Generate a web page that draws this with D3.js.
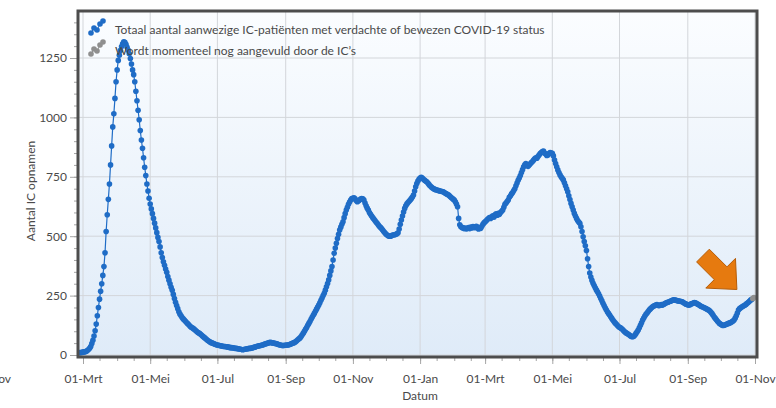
<!DOCTYPE html>
<html>
<head>
<meta charset="utf-8">
<script src="https://cdn.jsdelivr.net/npm/d3@7"></script>
<style>
  body { margin: 0; background: #fff; }
  svg { display: block; font-family: Lato, "Open Sans", sans-serif; }
</style>
</head>
<body>
<div id="chart"></div>
<script>
// first day of the series, one value per day after that
var startDate = "2020-02-27";
var provisionalDays = 2;

// Totaal aantal aanwezige IC-patiënten, daily values 2020
var ic2020 = [
  10, 10, 11, // feb
  12, 13, 14, 16, 19, 23, 28, 36, 48, 62, 80, 102, 130, 165, 200, 235, 268, 300, 335, 372, 430, 520, 590, 655, 720, 800, 880, 960, 1015, 1080, 1150,
  1200, 1240, 1262, 1282, 1298, 1310, 1318, 1316, 1308, 1295, 1283, 1268, 1248, 1225, 1200, 1180, 1150, 1110, 1070, 1030, 990, 945, 905, 870, 830, 790, 755, 720, 690, 660,
  635, 615, 595, 575, 555, 535, 515, 495, 478, 455, 430, 410, 392, 378, 362, 348, 330, 315, 300, 285, 272, 255, 238, 222, 208, 195, 182, 172, 165, 158, 152,
  147, 142, 137, 132, 127, 122, 118, 115, 112, 108, 104, 100, 96, 93, 90, 86, 82, 78, 74, 70, 66, 62, 59, 56, 53, 51, 49, 47, 45, 43,
  42, 41, 40, 39, 38, 37, 36, 36, 35, 34, 33, 32, 31, 31, 30, 29, 28, 28, 27, 26, 25, 24, 23, 22, 23, 24, 25, 26, 27, 28, 28,
  29, 30, 32, 33, 35, 37, 38, 39, 40, 41, 42, 44, 46, 47, 49, 50, 52, 53, 52, 51, 50, 49, 48, 47, 45, 43, 42, 41, 40, 40, 41,
  41, 42, 42, 43, 45, 47, 49, 51, 53, 56, 60, 64, 68, 72, 78, 85, 92, 100, 108, 116, 125, 133, 141, 150, 159, 167, 175, 184, 193, 202,
  210, 220, 230, 240, 250, 260, 273, 287, 301, 316, 335, 354, 372, 400, 428, 450, 470, 490, 508, 526, 538, 550, 561, 578, 595, 610, 622, 634, 644, 652, 658,
  660, 662, 657, 650, 645, 648, 652, 656, 658, 657, 652, 640, 628, 618, 610, 600, 592, 585, 578, 572, 566, 560, 554, 548, 542, 537, 532, 526, 520, 514,
  509, 505, 502, 500, 500, 502, 505, 505, 506, 508, 510, 514, 530, 550, 568, 585, 602, 617, 628, 636, 642, 647, 652, 658, 665, 673, 690, 708, 722, 732, 740
];

// daily values 2021
var ic2021 = [
  745, 748, 745, 740, 736, 732, 729, 724, 718, 712, 708, 704, 701, 698, 696, 694, 693, 692, 690, 689, 688, 687, 684, 681, 678, 675, 673, 668, 664, 660, 656,
  652, 645, 635, 624, 575, 548, 540, 537, 535, 532, 534, 531, 533, 536, 532, 538, 535, 541, 540, 536, 542, 538, 530, 534, 533, 542, 550, 556,
  561, 565, 570, 574, 578, 575, 582, 586, 580, 590, 594, 588, 596, 592, 600, 605, 610, 622, 634, 640, 646, 652, 664, 670, 678, 684, 692, 700, 712, 724, 735,
  745, 755, 768, 780, 792, 800, 806, 798, 794, 800, 805, 810, 814, 820, 826, 830, 828, 835, 842, 848, 852, 856, 858, 850, 846, 840, 842, 848, 852, 850,
  849, 838, 821, 806, 792, 779, 768, 758, 750, 744, 737, 725, 712, 700, 687, 670, 654, 638, 624, 610, 596, 585, 575, 566, 560, 554, 540, 520, 498, 478, 460,
  440, 405, 372, 345, 328, 314, 302, 292, 283, 274, 266, 258, 248, 238, 228, 218, 208, 199, 190, 182, 175, 168, 161, 154, 147, 141, 135, 130, 125, 120,
  117, 114, 110, 106, 101, 97, 93, 90, 87, 84, 80, 78, 77, 79, 84, 91, 98, 105, 115, 125, 136, 147, 156, 164, 171, 177, 183, 189, 194, 199, 203,
  206, 208, 210, 212, 209, 207, 210, 212, 210, 213, 216, 219, 221, 222, 224, 226, 228, 230, 232, 231, 231, 229, 228, 227, 226, 225, 224, 221, 218, 215, 213,
  211, 210, 212, 215, 217, 219, 221, 220, 217, 214, 211, 208, 205, 203, 201, 199, 197, 194, 191, 189, 185, 180, 174, 167, 160, 154, 148, 142, 137, 132,
  129, 126, 124, 125, 127, 129, 131, 133, 135, 137, 140, 143, 147, 155, 165, 177, 189, 195, 199, 202, 205, 207, 210, 214, 218, 222, 226, 231, 234, 238, 242
];

var xTickDates = ["2020-03-01", "2020-05-01", "2020-07-01", "2020-09-01", "2020-11-01", "2021-01-01",
                  "2021-03-01", "2021-05-01", "2021-07-01", "2021-09-01", "2021-11-01"];
var xTickLabels = ["01-Mrt", "01-Mei", "01-Jul", "01-Sep", "01-Nov", "01-Jan",
                   "01-Mrt", "01-Mei", "01-Jul", "01-Sep", "01-Nov"];
var yTicks = [0, 250, 500, 750, 1000, 1250];
var legendLabels = ["Totaal aantal aanwezige IC-patiënten met verdachte of bewezen COVID-19 status",
                    "Wordt momenteel nog aangevuld door de IC\u2019s"];

var w = 776, h = 408;
// plot frame ("top" is taken by window.top, so use other names)
var pLeft = 78, pRight = 757, pTop = 11, pBottom = 357;
var blue = "#1f6cc6", grey = "#8f8f8f";

var parse = d3.timeParse("%Y-%m-%d");
var start = parse(startDate);
var values = ic2020.concat(ic2021);
var data = values.map((v, i) => ({ date: d3.timeDay.offset(start, i), value: v }));
var confirmed = data.slice(0, data.length - provisionalDays);
var provisional = data.slice(data.length - provisionalDays - 1);
var tickDates = xTickDates.map(parse);

var x = d3.scaleTime()
  .domain([tickDates[0], tickDates[tickDates.length - 1]])
  .range([83, 755]);
var y = d3.scaleLinear().domain([0, 1250]).range([355, 58]);

var svg = d3.select("#chart").append("svg").attr("width", w).attr("height", h);

var defs = svg.append("defs");
var grad = defs.append("linearGradient").attr("id", "bg").attr("x1", 0).attr("y1", 0).attr("x2", 0).attr("y2", 1);
grad.append("stop").attr("offset", "0%").attr("stop-color", "#fbfdff");
grad.append("stop").attr("offset", "100%").attr("stop-color", "#dfebf8");
defs.append("clipPath").attr("id", "clip")
  .append("rect").attr("x", pLeft).attr("y", pTop).attr("width", pRight - pLeft).attr("height", pBottom - pTop);

svg.append("rect")
  .attr("x", pLeft).attr("y", pTop).attr("width", pRight - pLeft).attr("height", pBottom - pTop)
  .attr("fill", "url(#bg)");

// grid
svg.append("g").selectAll("line").data(tickDates).enter().append("line")
  .attr("x1", d => x(d)).attr("x2", d => x(d)).attr("y1", pTop).attr("y2", pBottom)
  .attr("stroke", "#d3d6da").attr("stroke-width", 1);
svg.append("g").selectAll("line").data(yTicks).enter().append("line")
  .attr("x1", pLeft).attr("x2", pRight).attr("y1", d => y(d)).attr("y2", d => y(d))
  .attr("stroke", "#d3d6da").attr("stroke-width", 1);

// axes
var minorX = d3.timeDay.range(parse("2020-02-16"), parse("2021-11-03"))
  .filter(d => d.getDate() == 1 || d.getDate() == 16)
  .filter(d => x(d) >= pLeft && x(d) <= pRight);
var xMinor = svg.append("g").attr("transform", `translate(0,${pBottom})`)
  .call(d3.axisBottom(x).tickValues(minorX).tickSize(4).tickFormat(""));
var xAxis = svg.append("g").attr("transform", `translate(0,${pBottom})`)
  .call(d3.axisBottom(x).tickValues(tickDates).tickSize(7).tickPadding(10)
    .tickFormat((d, i) => xTickLabels[i]));
var yMinor = svg.append("g").attr("transform", `translate(${pLeft},0)`)
  .call(d3.axisLeft(y).tickValues(d3.range(0, 1450, 50)).tickSize(4).tickFormat(""));
var yAxis = svg.append("g").attr("transform", `translate(${pLeft},0)`)
  .call(d3.axisLeft(y).tickValues(yTicks).tickSize(8).tickPadding(3).tickFormat(d3.format("d")));
[xMinor, xAxis, yMinor, yAxis].forEach(g => {
  g.select(".domain").remove();
  g.selectAll("line").attr("stroke", "#a5a5a5");
  g.selectAll("text").attr("fill", "#4a4a4a").style("font-size", "12px").style("font-family", "Lato, sans-serif");
});

// label cut off at the left edge of the picture
svg.append("text").attr("x", 11).attr("y", 383).attr("text-anchor", "end")
  .attr("fill", "#4a4a4a").style("font-size", "12px").text("01-Nov");

svg.append("text").attr("x", 420).attr("y", 400).attr("text-anchor", "middle")
  .attr("fill", "#4a4a4a").style("font-size", "12px").text("Datum");
svg.append("text").attr("transform", "translate(35,191) rotate(-90)").attr("text-anchor", "middle")
  .attr("fill", "#4a4a4a").style("font-size", "12px").text("Aantal IC opnamen");

// series
var plot = svg.append("g").attr("clip-path", "url(#clip)");
var line = d3.line().x(d => x(d.date)).y(d => y(d.value));
plot.append("path").datum(confirmed).attr("d", line)
  .attr("fill", "none").attr("stroke", blue).attr("stroke-width", 1.2);
plot.append("path").datum(provisional).attr("d", line)
  .attr("fill", "none").attr("stroke", grey).attr("stroke-width", 1.2);
plot.append("g").selectAll("circle").data(confirmed).enter().append("circle")
  .attr("cx", d => x(d.date)).attr("cy", d => y(d.value)).attr("r", 2.8).attr("fill", blue);
plot.append("g").selectAll("circle").data(provisional.slice(1)).enter().append("circle")
  .attr("cx", d => x(d.date)).attr("cy", d => y(d.value)).attr("r", 2.8).attr("fill", grey);

// legend
var iconDots = [[3, 13], [6, 8], [9, 10], [12, 4], [15, 1]];
var legend = svg.append("g");
legendLabels.forEach((label, i) => {
  var gy = 20 + i * 21;
  var col = i == 0 ? blue : grey;
  var g = legend.append("g").attr("transform", `translate(88,${gy})`);
  g.append("path").attr("d", d3.line()(iconDots)).attr("fill", "none").attr("stroke", col).attr("stroke-width", 1);
  g.selectAll("circle").data(iconDots).enter().append("circle")
    .attr("cx", d => d[0]).attr("cy", d => d[1]).attr("r", 2.8).attr("fill", col);
  legend.append("text").attr("x", 115).attr("y", gy + 14)
    .attr("fill", "#4a4a4a").style("font-size", "12px").text(label);
});

// frame
svg.append("rect")
  .attr("x", pLeft).attr("y", pTop).attr("width", pRight - pLeft).attr("height", pBottom - pTop)
  .attr("fill", "none").attr("stroke", "#4d4d4d").attr("stroke-width", 3);

// orange arrow pointing to the last value
var last = data[data.length - 1];
var tip = [x(last.date) - 17, y(last.value) - 8];
var ang = Math.PI / 4;
var ux = Math.cos(ang), uy = Math.sin(ang);
function pt(along, across) {
  return [tip[0] - ux * along + uy * across, tip[1] - uy * along - ux * across];
}
var arrowPts = [pt(0, 0), pt(23, 21), pt(23, 9), pt(48, 9), pt(48, -9), pt(23, -9), pt(23, -21)];
svg.append("polygon")
  .attr("points", arrowPts.map(p => p.join(",")).join(" "))
  .attr("fill", "#e67a0f").attr("stroke", "#b65d08").attr("stroke-width", 1).attr("stroke-linejoin", "round");
</script>
</body>
</html>
